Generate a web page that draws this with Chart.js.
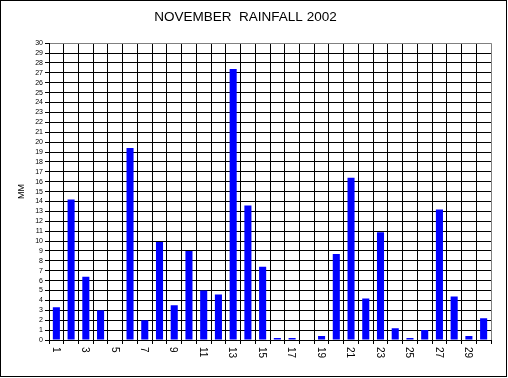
<!DOCTYPE html>
<html>
<head>
<meta charset="utf-8">
<script src="https://cdn.jsdelivr.net/npm/chart.js@4/dist/chart.umd.min.js"></script>
<style>
  html, body { margin: 0; padding: 0; background: #fff; }
  canvas { display: block; }
</style>
</head>
<body>
<canvas id="rainChart" width="508" height="378"></canvas>
<script>
// November 2002 daily rainfall, mm
const days = ['1', '2', '3', '4', '5', '6', '7', '8', '9', '10',
              '11', '12', '13', '14', '15', '16', '17', '18', '19', '20',
              '21', '22', '23', '24', '25', '26', '27', '28', '29', '30'];
const rainfall = [3.3, 14.2, 6.4, 3.0, 0, 19.4, 2.0, 9.9, 3.5, 9.0,
                  5.0, 4.6, 27.4, 13.6, 7.4, 0.2, 0.2, 0, 0.4, 8.7,
                  16.4, 4.2, 10.9, 1.2, 0.2, 1.0, 13.2, 4.4, 0.4, 2.2];
const yMin = 0;
const yMax = 30;
const yStep = 1;

const FONT = '"Liberation Sans", Arial, sans-serif';

// day labels are written top-to-bottom (rotated clockwise), every other day
const dayLabels = {
    id: 'dayLabels',
    afterDraw(chart) {
        const { ctx, chartArea } = chart;
        const x = chart.scales.x;
        ctx.save();
        ctx.font = '10px ' + FONT;
        ctx.fillStyle = '#000';
        ctx.textAlign = 'left';
        ctx.textBaseline = 'middle';
        days.forEach((d, i) => {
            if (i % 2) return;
            ctx.save();
            ctx.translate(x.getPixelForValue(i) - 1, chartArea.bottom + 7);
            ctx.rotate(Math.PI / 2);
            ctx.fillText(d, 0, 0);
            ctx.restore();
        });
        // outer frame
        ctx.strokeStyle = '#000';
        ctx.lineWidth = 1;
        ctx.strokeRect(0.5, 0.5, 506, 376);
        ctx.restore();
    },
};

new Chart(document.getElementById('rainChart'), {
    type: 'bar',
    data: {
        labels: days,
        datasets: [{
            data: rainfall,
            backgroundColor: '#0000ff',
            borderWidth: 0,
            barPercentage: 0.48,
            categoryPercentage: 1,
        }],
    },
    options: {
        responsive: false,
        animation: false,
        events: [],
        layout: { padding: { left: 0, right: 17, top: 0, bottom: 0 } },
        plugins: {
            legend: { display: false },
            tooltip: { enabled: false },
            title: {
                display: true,
                text: 'NOVEMBER  RAINFALL 2002',
                color: '#000',
                font: { family: FONT, size: 13.5, weight: 'normal' },
                padding: { top: 9, bottom: 18 },
            },
        },
        scales: {
            x: {
                offset: true,
                grid: {
                    offset: true,
                    color: (c) => (c.tick ? '#000' : '#808080'),
                    tickColor: '#000',
                    tickLength: 4,
                    lineWidth: 1,
                },
                border: { color: '#000' },
                ticks: { display: false },
                afterFit(scale) { scale.height = 38; },
            },
            y: {
                min: yMin,
                max: yMax,
                grid: {
                    color: (c) => (c.tick && c.tick.value === yMax ? '#808080' : '#000'),
                    tickColor: '#000',
                    tickLength: 4,
                    lineWidth: 1,
                },
                border: { color: '#000' },
                ticks: {
                    stepSize: yStep,
                    autoSkip: false,
                    padding: 2,
                    color: '#000',
                    font: { family: FONT, size: 7 },
                },
                title: {
                    display: true,
                    text: 'MM',
                    color: '#000',
                    font: { family: FONT, size: 9 },
                    padding: { top: 16, bottom: 0 },
                },
                afterFit(scale) { scale.width = 49; },
            },
        },
    },
    plugins: [dayLabels],
});
</script>
</body>
</html>
